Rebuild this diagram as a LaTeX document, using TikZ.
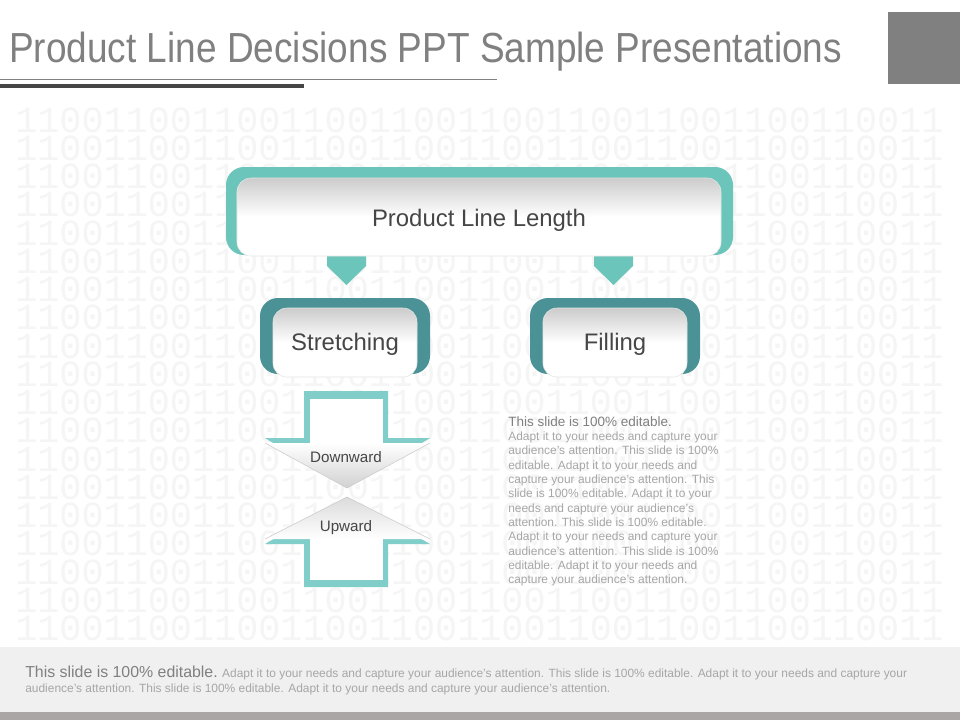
\documentclass[tikz,border=0pt]{standalone}
\usepackage{fontspec}
\setmainfont{Liberation Sans}
\newfontfamily\titlefont[FakeStretch=0.88]{Liberation Sans}
\newfontfamily\digitfont{Liberation Mono}
\usepackage{tikz}
\usetikzlibrary{positioning}
\definecolor{tealA}{RGB}{108,197,186}
\definecolor{tealB}{RGB}{74,146,150}
\definecolor{tealC}{RGB}{128,205,201}
\definecolor{txtdark}{RGB}{70,70,70}
\definecolor{txtgray}{RGB}{128,128,128}
\definecolor{txtlight}{RGB}{166,166,166}
\definecolor{footbg}{RGB}{240,240,240}
\definecolor{footbar}{RGB}{170,166,166}
\tikzstyle{digits} = [text=black!4, inner sep=0pt, font=\digitfont\fontsize{26.2}{28}\selectfont]
\tikzstyle{innerbox} = [rectangle, rounded corners=3.5mm, draw=black!10, line width=0.4pt, top color=black!20, bottom color=white, middle color=white, text=txtdark, font=\fontsize{17}{20}\selectfont]
\tikzstyle{arrowtext} = [text=txtdark, inner sep=0pt, font=\fontsize{10.8}{12}\selectfont]

\begin{document}
\begin{tikzpicture}[x=0.25mm, y=-0.25mm]
        \useasboundingbox (0,0) rectangle (960,720);
        \fill[white] (0,0) rectangle (960,720);
        \foreach \r in {0,...,18}{
            \node[digits, anchor=west] (bin\r) at (15,120+28.25*\r) {110011001100110011001100110011001100110011};
        }
        \node[anchor=base west, inner sep=0pt, text=txtgray, font=\titlefont\fontsize{29.9}{32}\selectfont] (title) at (9,62) {Product Line Decisions PPT Sample Presentations};
        \fill[txtgray] (888,12) rectangle (960,84);
        \draw[txtgray, line width=1.4pt] (0,79.5) -- (497,79.5);
        \draw[txtdark, line width=2.8pt] (0,86) -- (304,86);
        \fill[tealA] (327,250) -- (366,250) -- (366,266) -- (346.5,285) -- (327,266) -- cycle;
        \fill[tealA] (594,250) -- (633,250) -- (633,266) -- (613.5,285) -- (594,266) -- cycle;
        \fill[tealA, rounded corners=4.5mm] (226,167) rectangle (733,255);
        \node[innerbox, minimum width=12.1cm, minimum height=1.95cm, text height=15pt, text depth=2pt] (lenbox) at (479,217) {Product Line Length};
        \fill[tealB, rounded corners=4.5mm] (260,298) rectangle (430,374);
        \fill[tealB, rounded corners=4.5mm] (530,298) rectangle (700,374);
        \node[innerbox, minimum width=3.6cm, minimum height=1.725cm, text height=14pt, text depth=2pt] (stretchbox) at (345,342.5) {Stretching};
        \node[innerbox, minimum width=3.6cm, minimum height=1.725cm, text height=14pt, text depth=2pt] (fillbox) at (615,342.5) {Filling};
        \fill[tealC] (304,391) -- (388,391) -- (388,438) -- (430,438) -- (347,488) -- (265,438) -- (304,438) -- cycle;
        \fill[white] (310,399) rectangle (383,444);
        \shade[top color=white, bottom color=black!18] (265,443) -- (430,443) -- (347,488) -- cycle;
        \draw[black!20] (265,443) -- (347,488) -- (430,443);
        \fill[tealC] (347,497) -- (430,544) -- (388,544) -- (388,587) -- (304,587) -- (304,544) -- (265,544) -- cycle;
        \fill[white] (310,538) rectangle (383,580);
        \shade[top color=black!14, bottom color=white] (347,497) -- (430,539) -- (265,539) -- cycle;
        \draw[black!20] (265,539) -- (347,497) -- (430,539);
        \node[arrowtext] (downlbl) at (346,457) {Downward};
        \node[arrowtext] (uplbl) at (346,528) {Upward};
        \node[anchor=north west, inner sep=0pt, align=left, text=txtlight, font=\fontsize{8.5}{10.2}\selectfont] (note) at (508,416) {{\color{txtgray}\fontsize{9.6}{10.7}\selectfont This slide is 100\% editable.}\\
            Adapt it to your needs and capture your\\
            audience's attention. This slide is 100\%\\
            editable. Adapt it to your needs and\\
            capture your audience's attention. This\\
            slide is 100\% editable. Adapt it to your\\
            needs and capture your audience's\\
            attention. This slide is 100\% editable.\\
            Adapt it to your needs and capture your\\
            audience's attention. This slide is 100\%\\
            editable. Adapt it to your needs and\\
            capture your audience's attention.};
        \fill[footbg] (0,647) rectangle (960,712);
        \fill[footbar] (0,712) rectangle (960,720);
        \node[anchor=base west, inner sep=0pt, text=txtlight, font=\fontsize{8.5}{10}\selectfont] (foot1) at (25,677) {{\color{txtgray}\fontsize{11.3}{13}\selectfont This slide is 100\% editable.} Adapt it to your needs and capture your audience's attention. This slide is 100\% editable. Adapt it to your needs and capture your};
        \node[anchor=base west, inner sep=0pt, text=txtlight, font=\fontsize{8.5}{10}\selectfont] (foot2) at (25,692) {audience's attention. This slide is 100\% editable. Adapt it to your needs and capture your audience's attention.};
    \end{tikzpicture}
\end{document}
